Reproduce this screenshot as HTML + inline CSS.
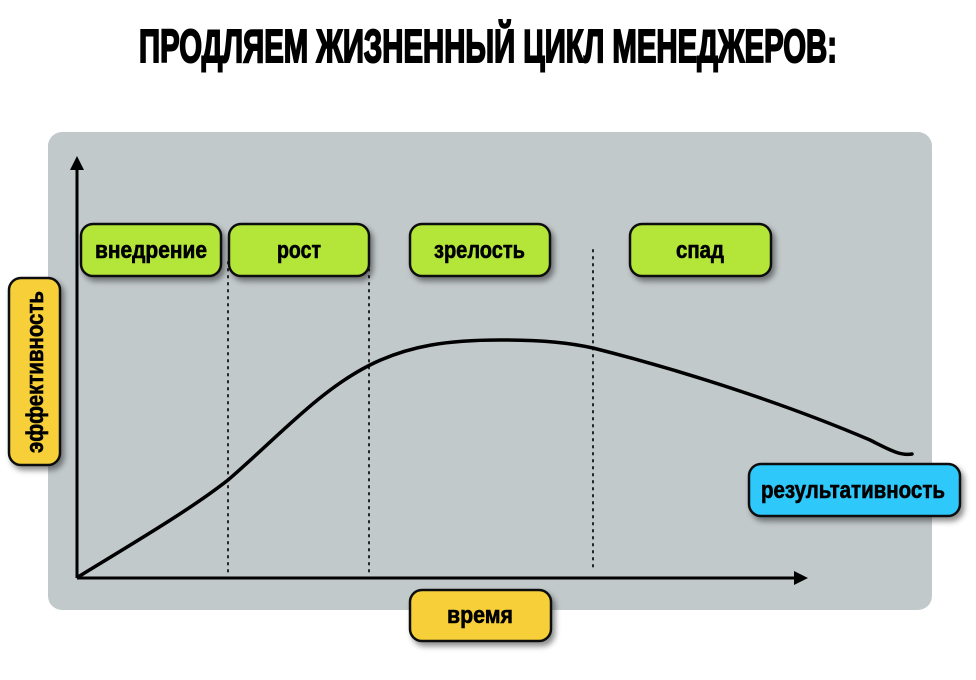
<!DOCTYPE html>
<html><head><meta charset="utf-8"><style>
html,body{margin:0;padding:0;background:#fff;width:976px;height:680px;overflow:hidden}
text{font-family:"Liberation Sans Narrow","Liberation Sans",sans-serif;font-weight:bold;fill:#000}
</style></head><body>
<svg width="976" height="680" viewBox="0 0 976 680" xmlns="http://www.w3.org/2000/svg">
<defs>
<filter id="sh" x="-20%" y="-20%" width="150%" height="160%"><feDropShadow dx="3" dy="4" stdDeviation="3" flood-color="#000" flood-opacity="0.45"/></filter>
</defs>
<text x="139" y="62" font-size="46" textLength="698" lengthAdjust="spacingAndGlyphs" stroke="#000" stroke-width="2">ПРОДЛЯЕМ ЖИЗНЕННЫЙ ЦИКЛ МЕНЕДЖЕРОВ:</text>
<rect x="48" y="132" width="884" height="478" rx="14" fill="#c2c9cb"/>
<g stroke="#222" stroke-width="2" stroke-dasharray="1.5 5.5" stroke-linecap="round">
<line x1="228" y1="262" x2="228" y2="575"/>
<line x1="369" y1="262" x2="369" y2="575"/>
<line x1="593" y1="250" x2="593" y2="570"/>
</g>
<line x1="77" y1="578" x2="77" y2="168" stroke="#000" stroke-width="3"/>
<polygon points="77,156 70,170 84,170" fill="#000"/>
<line x1="77" y1="578" x2="795" y2="578" stroke="#000" stroke-width="3"/>
<polygon points="808,578 794,571 794,585" fill="#000"/>
<path d="M78,577 C130,545 190,510 228,480 C280,435 320,390 370,365 C410,345 450,340 500,340 C545,340 570,343 593,348 C700,375 800,410 870,440 C890,450 900,456 912,454" fill="none" stroke="#000" stroke-width="3.5" stroke-linecap="round"/>
<g stroke="#111" stroke-width="2.5" filter="url(#sh)">
<rect x="81" y="224" width="140" height="52" rx="12" fill="#b3e638"/>
<rect x="229" y="224" width="140" height="52" rx="12" fill="#b3e638"/>
<rect x="410" y="224" width="140" height="52" rx="12" fill="#b3e638"/>
<rect x="630" y="224" width="141" height="52" rx="12" fill="#b3e638"/>
<rect x="9" y="278" width="51" height="187" rx="12" fill="#f7cf38"/>
<rect x="749" y="464" width="211" height="52" rx="12" fill="#2ec8fb"/>
<rect x="410" y="590" width="141" height="51" rx="12" fill="#f7cf38"/>
</g>
<g font-size="24" stroke="#000" stroke-width="0.6" lengthAdjust="spacingAndGlyphs">
<text x="95" y="258" textLength="112" lengthAdjust="spacingAndGlyphs">внедрение</text>
<text x="277" y="258" textLength="44" lengthAdjust="spacingAndGlyphs">рост</text>
<text x="434" y="258" textLength="91" lengthAdjust="spacingAndGlyphs">зрелость</text>
<text x="676" y="258" textLength="48" lengthAdjust="spacingAndGlyphs">спад</text>
<text x="761" y="498" textLength="184" lengthAdjust="spacingAndGlyphs">результативность</text>
<text x="447" y="623" textLength="66" lengthAdjust="spacingAndGlyphs">время</text>
<text transform="translate(43,453) rotate(-90)" textLength="162" lengthAdjust="spacingAndGlyphs">эффективность</text>
</g>
</svg>
</body></html>
